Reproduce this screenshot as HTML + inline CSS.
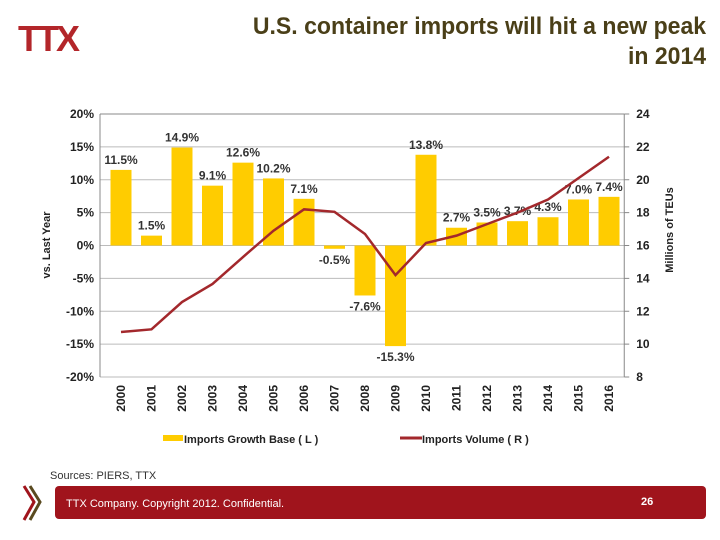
<!DOCTYPE html>
<html><head><meta charset="utf-8"><style>
body{margin:0;width:720px;height:540px;background:#fff;position:relative;overflow:hidden;font-family:"Liberation Sans",sans-serif}
.title{position:absolute;right:14px;top:12px;text-align:right;font-size:24px;line-height:30px;color:#4a3f18;font-weight:bold;transform:scaleX(0.96);transform-origin:right}
.logo{position:absolute;left:18px;top:18px;font-size:36px;font-weight:bold;color:#b3262a;letter-spacing:-3px;font-family:"Liberation Sans",sans-serif}
.src{position:absolute;left:50px;top:470px;font-size:11px;color:#333}
.foot{position:absolute;left:55px;top:486px;width:651px;height:33px;background:#a0141c;border-radius:4px}
.foot span{position:absolute;color:#fff;font-size:11px}
</style></head><body>
<div class="logo">TTX</div>
<div class="title">U.S. container imports will hit a new peak<br>in 2014</div>
<svg id="chart" width="720" height="540" style="position:absolute;left:0;top:0"></svg>
<div class="src">Sources: PIERS, TTX</div>
<svg width="20" height="40" style="position:absolute;left:22px;top:484px"><polyline points="2,2 12,18 2,36" fill="none" stroke="#a0141c" stroke-width="3"/><polyline points="8,2 18,18 8,36" fill="none" stroke="#5a4a20" stroke-width="3"/></svg>
<div class="foot"><span style="left:11px;top:12px">TTX Company. Copyright 2012. Confidential.</span><span style="left:586px;top:10px;font-weight:bold">26</span></div>
<script>
const years=["2000","2001","2002","2003","2004","2005","2006","2007","2008","2009","2010","2011","2012","2013","2014","2015","2016"];
const growth=[11.5,1.5,14.9,9.1,12.6,10.2,7.1,-0.5,-7.6,-15.3,13.8,2.7,3.5,3.7,4.3,7.0,7.4];
const volume=[10.74,10.9,12.56,13.66,15.3,16.9,18.2,18.05,16.7,14.2,16.15,16.6,17.3,18.0,18.8,20.1,21.4];
const leftTicks=[20,15,10,5,0,-5,-10,-15,-20];
const rightTicks=[24,22,20,18,16,14,12,10,8];
const NS="http://www.w3.org/2000/svg";
const svg=document.getElementById('chart');
const X0=105.75,X1=624.25,T=114,B=377,AX=100;
const yL=v=>T+(20-v)/40*(B-T);
const yR=v=>T+(24-v)/16*(B-T);
const step=(X1-X0)/years.length;
const xc=i=>X0+step*(i+0.5);
function mk(tag,attrs,text){const e=document.createElementNS(NS,tag);for(const k in attrs)e.setAttribute(k,attrs[k]);if(text!==undefined)e.textContent=text;svg.appendChild(e);return e;}
leftTicks.forEach(t=>{
 const g=mk('line',{x1:AX,x2:X1,y1:yL(t),y2:yL(t),stroke:t===20?'#888':'#bbb','stroke-width':1});
 
 const l=mk('text',{x:AX-6,y:yL(t)+4,'text-anchor':'end','font-size':12,'font-weight':'bold',fill:'#222'},t+'%');
 
});
rightTicks.forEach(t=>{
 const l=mk('text',{x:X1+12,y:yR(t)+4,'font-size':12,'font-weight':'bold',fill:'#222'},t);
 
 mk('line',{x1:X1,x2:X1+5,y1:yR(t),y2:yR(t),stroke:'#888'});
});
mk('line',{x1:AX,x2:AX,y1:T,y2:B,stroke:'#888'});
mk('line',{x1:X1,x2:X1,y1:T,y2:B,stroke:'#888'});
growth.forEach((v,i)=>{
 const y0=yL(0),y=yL(v);
 const r=mk('rect',{x:xc(i)-10.5,y:Math.min(y,y0),width:21,height:Math.abs(y-y0),fill:'#ffcc00'});
 
 const ty=v>=0?y-6:y+15;
 const l=mk('text',{x:xc(i),y:ty,'text-anchor':'middle','font-size':12,'font-weight':'bold',fill:'#333'},v.toFixed(1)+'%');
 
 const yl=mk('text',{x:0,y:0,'font-size':12,'font-weight':'bold',fill:'#222','text-anchor':'end',transform:`translate(${xc(i)+4},${B+8}) rotate(-90)`},years[i]);
 
});
const p=mk('polyline',{points:volume.map((v,i)=>xc(i)+','+yR(v)).join(' '),fill:'none',stroke:'#a3282c','stroke-width':2.5});

const ya=mk('text',{'font-size':11,'font-weight':'bold',fill:'#222','text-anchor':'middle',transform:'translate(50,245) rotate(-90)'},'vs. Last Year');

const yb=mk('text',{'font-size':11,'font-weight':'bold',fill:'#222','text-anchor':'middle',transform:'translate(673,230) rotate(-90)'},'Millions of TEUs');

mk('rect',{x:163,y:435,width:20,height:6,fill:'#ffcc00'});
const lg1=mk('text',{x:184,y:443,'font-size':11,'font-weight':'bold',fill:'#222'},'Imports Growth Base ( L )');

mk('line',{x1:400,x2:422,y1:438,y2:438,stroke:'#a3282c','stroke-width':3});
const lg2=mk('text',{x:422,y:443,'font-size':11,'font-weight':'bold',fill:'#222'},'Imports Volume ( R )');

</script>
</body></html>
